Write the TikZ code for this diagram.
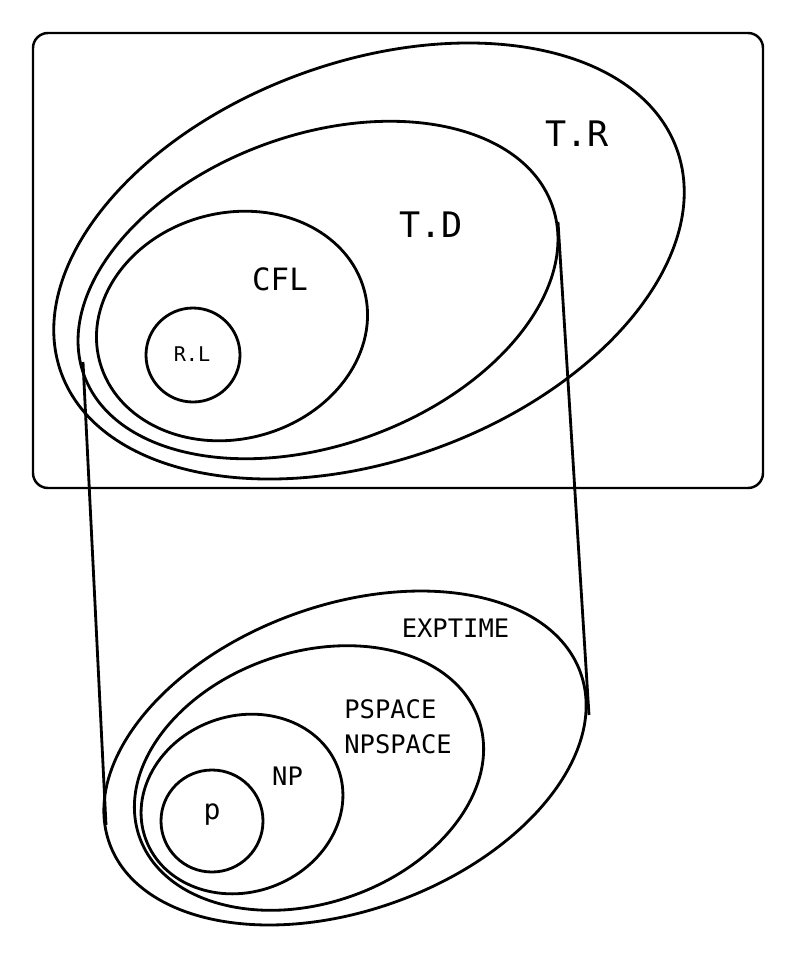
\documentclass[tikz,border=0pt]{standalone}
\usepackage{fontspec}
\setmonofont{DejaVu Sans Mono}
\usetikzlibrary{positioning}

\begin{document}
\begin{tikzpicture}[
    ring/.style={line width=1.6pt},
    link/.style={line width=1.6pt},
    lbl/.style={font=\ttfamily\fontsize{#1}{20pt}\selectfont, inner sep=0pt}
]
    \useasboundingbox (0,0) rectangle (15.94,-19.56);

    % Frame around the language classes
    \draw[line width=1.4pt, rounded corners=0.3cm] (0.66,-0.66) rectangle (15.26,-9.76);

    % Language classes
    \draw[ring, rotate around={20:(7.38,-5.22)}] (7.38,-5.22) ellipse (6.55 and 3.98);
    \draw[ring, rotate around={20:(6.36,-5.8)}] (6.36,-5.8) ellipse (4.98 and 3.1);
    \draw[ring, rotate around={15:(4.64,-6.52)}] (4.64,-6.52) ellipse (2.74 and 2.26);
    \draw[ring] (3.86,-7.1) circle (0.94);
    \node[lbl=20pt] (tr) at (11.54,-2.68) {T.R};
    \node[lbl=20pt] (td) at (8.62,-4.5) {T.D};
    \node[lbl=17.5pt] (cfl) at (5.6,-5.58) {CFL};
    \node[lbl=11.5pt] (rl) at (3.84,-7.08) {R.L};

    % Complexity classes
    \draw[ring, rotate around={20:(6.9,-15.16)}] (6.9,-15.16) ellipse (5.01 and 3.05);
    \draw[ring, rotate around={19:(6.18,-15.56)}] (6.18,-15.56) ellipse (3.59 and 2.51);
    \draw[ring, rotate around={20:(4.84,-16.08)}] (4.84,-16.08) ellipse (2.05 and 1.76);
    \draw[ring] (4.24,-16.42) circle (1.02);
    \node[lbl=14.5pt] (exp) at (9.11,-12.56) {EXPTIME};
    \node[lbl=14.5pt, anchor=west, align=left] (pspace) at (6.88,-14.53) {PSPACE\\NPSPACE};
    \node[lbl=14.5pt] (np) at (5.75,-15.52) {NP};
    \node[lbl=16pt] (p) at (4.24,-16.3) {p};

    % Links between T.D and EXPTIME
    \coordinate (tdW) at (1.66,-7.24);
    \coordinate (tdE) at (11.16,-4.44);
    \coordinate (expW) at (2.12,-16.5);
    \coordinate (expE) at (11.78,-14.3);
    \draw[link] (tdW) -- (expW);
    \draw[link] (tdE) -- (expE);
\end{tikzpicture}
\end{document}
